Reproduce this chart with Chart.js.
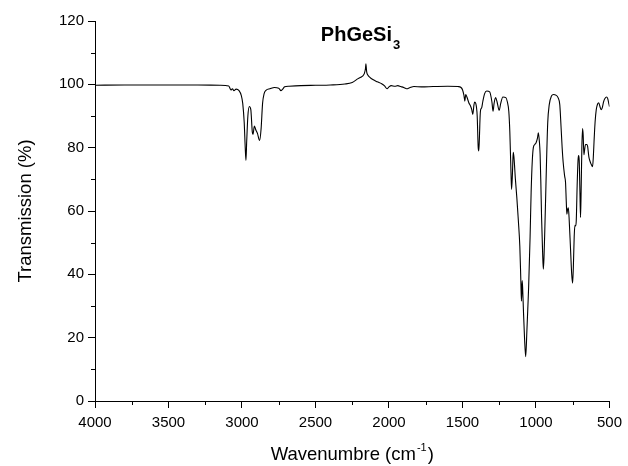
<!DOCTYPE html>
<html>
<head>
<meta charset="utf-8">
<script src="https://cdn.jsdelivr.net/npm/chart.js@4.4.1/dist/chart.umd.min.js"></script>
<style>
  body { margin: 0; background: #fff; }
  canvas { display: block; }
</style>
</head>
<body>
<canvas id="chart" width="628" height="466"></canvas>
<script>
// IR spectrum (wavenumber in cm-1, transmission in %)
const wavenumbers = [
  4000, 3800, 3500, 3300, 3150, 3090, 3075, 3065, 3055, 3040, 3020, 3005, 2995, 2985, 2978, 2973,
  2968, 2960, 2950, 2940, 2930, 2925, 2916, 2905, 2895, 2880, 2870, 2860, 2850, 2835, 2810, 2780,
  2750, 2735, 2725, 2710, 2680, 2600, 2500, 2400, 2300, 2250, 2210, 2180, 2168, 2160, 2157, 2152,
  2145, 2130, 2110, 2080, 2050, 2030, 2013, 2000, 1985, 1960, 1940, 1920, 1900, 1880, 1860, 1830,
  1780, 1700, 1600, 1530, 1510, 1500, 1490, 1484, 1478, 1470, 1457, 1444, 1437, 1430, 1422, 1417,
  1410, 1400, 1393, 1389, 1385, 1380, 1376, 1370, 1362, 1350, 1335, 1315, 1300, 1292, 1285, 1275,
  1265, 1250, 1240, 1225, 1205, 1195, 1185, 1178, 1170, 1166, 1160, 1155, 1150, 1140, 1130, 1120,
  1110, 1103, 1099, 1094, 1091, 1085, 1078, 1070, 1062, 1055, 1050, 1040, 1033, 1025, 1018, 1008,
  1000, 990, 984, 977, 972, 967, 962, 955, 950, 945, 940, 935, 928, 920, 910, 895,
  880, 865, 850, 838, 830, 822, 815, 805, 799, 794, 790, 785, 780, 775, 765, 757,
  751, 746, 740, 735, 730, 726, 720, 714, 710, 706, 701, 697, 693, 688, 683, 679,
  674, 670, 663, 655, 649, 640, 633, 625, 615, 610, 605, 598, 590, 581, 573, 565,
  557, 550, 540, 531, 520, 512, 505, 500
];
const transmission = [
  99.7, 99.8, 99.8, 99.8, 99.7, 99.5, 98.2, 98.6, 98.0, 98.5, 98.0, 96.5, 94, 88, 80, 76,
  82, 90, 93, 92, 85, 84.2, 86.8, 85.5, 84.5, 82.3, 86, 94, 97, 98.2, 98.6, 99,
  98.8, 98.0, 98.4, 99.2, 99.4, 99.6, 99.7, 99.8, 100.1, 100.6, 101.8, 102.6, 103.4, 105, 106.5, 104,
  103, 102.2, 101.5, 100.8, 100.2, 99.5, 98.6, 99.2, 99.6, 99.4, 99.6, 99.3, 99.0, 98.6, 98.9, 99.3,
  99.2, 99.3, 99.4, 99.3, 99, 98.3, 96.5, 94.7, 96.8, 96, 94.2, 93, 92, 90.5, 93.5, 94.4,
  94, 90, 80, 79, 83, 90, 92.1, 92.5, 94.5, 97, 97.9, 97.6, 94.5, 91.5, 94, 95.8,
  94.5, 91.8, 94, 96, 95.8, 94.5, 91.5, 85, 72, 66.8, 72, 78.5, 77, 70, 64, 57,
  48.9, 38, 31.5, 38, 36, 28, 20, 14, 22, 30, 36, 52, 66, 76, 80, 81,
  81.5, 83, 84.7, 82, 78, 69, 58, 47, 41.6, 46, 54, 63, 76, 88, 93.5, 96.3,
  96.8, 96.6, 95.8, 93.5, 87, 80, 75.3, 71, 69, 63, 59, 60.5, 61, 58, 48, 40,
  37.2, 42, 52, 55.5, 55.3, 57, 68, 76, 77.5, 76, 66, 58, 66, 80, 86, 84,
  77.8, 79, 81, 81, 80.5, 77, 75.8, 74.8, 74, 77, 82, 88, 92, 93.8, 94.2, 93,
  92, 92.5, 94.5, 95.5, 96, 95.5, 94, 93
];
const xTicks = [4000, 3500, 3000, 2500, 2000, 1500, 1000, 500];
const yTicks = [0, 20, 40, 60, 80, 100, 120];
const xMinorTicks = [3750, 3250, 2750, 2250, 1750, 1250, 750];
const yMinorTicks = [10, 30, 50, 70, 90, 110];

const FONT = '"Liberation Sans", Arial, sans-serif';

// titles with sub/superscript + minor ticks
const extras = {
  id: 'extras',
  beforeDraw(chart) {
    const c = chart.ctx;
    c.save();
    c.fillStyle = '#fff';
    c.fillRect(0, 0, chart.width, chart.height);
    c.restore();
  },
  afterDraw(chart) {
    const c = chart.ctx;
    const xs = chart.scales.x;
    const ys = chart.scales.y;
    c.save();
    c.strokeStyle = '#000';
    c.lineWidth = 1;
    c.beginPath();
    xMinorTicks.forEach(v => {
      const px = Math.round(xs.getPixelForValue(v)) + 0.5;
      c.moveTo(px, xs.top);
      c.lineTo(px, xs.top + 4);
    });
    yMinorTicks.forEach(v => {
      const py = Math.round(ys.getPixelForValue(v)) + 0.5;
      c.moveTo(ys.right, py);
      c.lineTo(ys.right - 4, py);
    });
    c.stroke();

    c.fillStyle = '#000';
    c.textBaseline = 'alphabetic';
    c.textAlign = 'left';

    // chart title PhGeSi3
    c.font = 'bold 20px ' + FONT;
    const main = 'PhGeSi';
    const w1 = c.measureText(main).width;
    c.font = 'bold 13px ' + FONT;
    const w2 = c.measureText('3').width;
    let tx = 360 - (w1 + w2) / 2;
    c.font = 'bold 20px ' + FONT;
    c.fillText(main, tx, 41);
    c.font = 'bold 13px ' + FONT;
    c.fillText('3', tx + w1 + 1, 49);

    // x axis title
    const cx = (chart.chartArea.left + chart.chartArea.right) / 2;
    c.font = '18.5px ' + FONT;
    const a = 'Wavenumbre (cm';
    const b = ')';
    const wa = c.measureText(a).width;
    const wb = c.measureText(b).width;
    c.font = '11px ' + FONT;
    const ws = c.measureText('-1').width;
    let x0 = cx - (wa + ws + wb + 2) / 2;
    c.font = '18.5px ' + FONT;
    c.fillText(a, x0, 460);
    c.font = '11px ' + FONT;
    c.fillText('-1', x0 + wa + 1, 451);
    c.font = '18.5px ' + FONT;
    c.fillText(b, x0 + wa + ws + 2, 460);

    // y axis title
    const cy = (chart.chartArea.top + chart.chartArea.bottom) / 2;
    c.translate(31, cy);
    c.rotate(-Math.PI / 2);
    c.textAlign = 'center';
    c.font = '18.5px ' + FONT;
    c.fillText('Transmission (%)', 0, 0);
    c.restore();
  }
};

const ctx = document.getElementById('chart').getContext('2d');
new Chart(ctx, {
  type: 'line',
  data: {
    datasets: [{
      data: wavenumbers.map((w, i) => ({ x: w, y: transmission[i] })),
      borderColor: '#000',
      borderWidth: 1.1,
      pointRadius: 0,
      fill: false,
      cubicInterpolationMode: 'monotone'
    }]
  },
  options: {
    responsive: false,
    animation: false,
    layout: { padding: { top: 21, right: 16, left: 0, bottom: 0 } },
    plugins: {
      legend: { display: false },
      tooltip: { enabled: false }
    },
    scales: {
      x: {
        type: 'linear',
        reverse: true,
        min: 500,
        max: 4000,
        afterBuildTicks: s => { s.ticks = xTicks.map(v => ({ value: v })); },
        afterFit: s => { s.height = 65; },
        grid: { drawOnChartArea: false, tickLength: 7, tickColor: '#000' },
        border: { display: true, color: '#000', width: 1 },
        ticks: {
          color: '#000',
          font: { family: FONT, size: 15 },
          padding: 6,
          maxRotation: 0,
          autoSkip: false,
          callback: v => String(v)
        }
      },
      y: {
        min: 0,
        max: 120,
        afterBuildTicks: s => { s.ticks = yTicks.map(v => ({ value: v })); },
        afterFit: s => { s.width = 95; },
        grid: { drawOnChartArea: false, tickLength: 7, tickColor: '#000' },
        border: { display: true, color: '#000', width: 1 },
        ticks: {
          color: '#000',
          font: { family: FONT, size: 15 },
          padding: 4,
          callback: v => String(v)
        }
      }
    }
  },
  plugins: [extras]
});
</script>
</body>
</html>
